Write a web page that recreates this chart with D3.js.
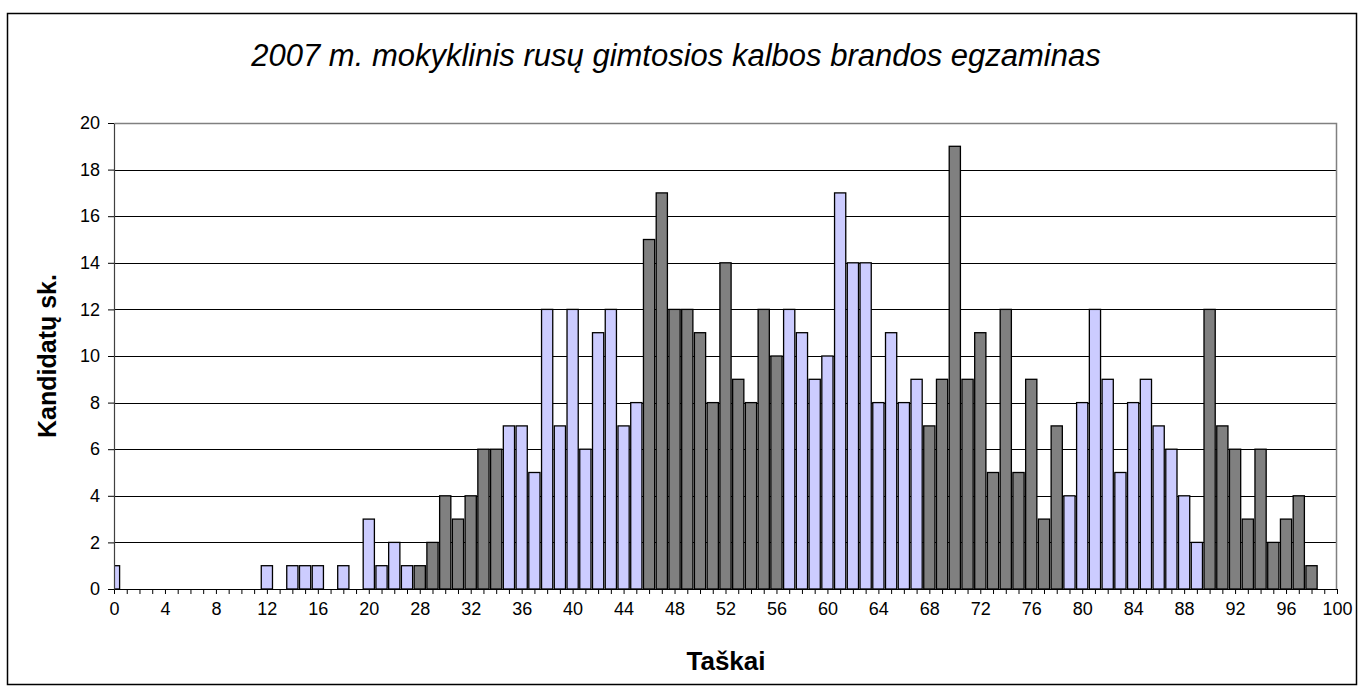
<!DOCTYPE html>
<html>
<head>
<meta charset="utf-8">
<script src="https://cdn.jsdelivr.net/npm/d3@7"></script>
<style>
  body { margin: 0; background: #fff; }
  svg { display: block; font-family: "Liberation Sans", Arial, sans-serif; }
</style>
</head>
<body>
<div id="chart"></div>
<script>
const svgWidth = 1364;
const svgHeight = 692;
const margin = { top: 123, right: 27, bottom: 103, left: 114 };

const width = svgWidth - margin.left - margin.right;
const height = svgHeight - margin.top - margin.bottom;

// categories as they appear on the axis (scores 24-27 are absent)
const scores = d3.range(0, 24).concat(d3.range(28, 101));

const counts = [
  1, 0, 0, 0, 0, 0, 0, 0, 0, 0, 0, 0, 1, 0, 1, 1, 1, 0, 1, 0,
  3, 1, 2, 1, 1, 2, 4, 3, 4, 6, 6, 7, 7, 5, 12, 7, 12, 6, 11, 12,
  7, 8, 15, 17, 12, 12, 11, 8, 14, 9, 8, 12, 10, 12, 11, 9, 10, 17, 14, 14,
  8, 11, 8, 9, 7, 9, 19, 9, 11, 5, 12, 5, 9, 3, 7, 4, 8, 12, 9, 5,
  8, 9, 7, 6, 4, 2, 12, 7, 6, 3, 6, 2, 3, 4, 1, 0, 0
];

// score ranges drawn with the dark fill
const darkBands = [[28, 34], [46, 56], [68, 78], [90, 100]];

const yTicks = d3.range(0, 21, 2);

const data = scores.map((s, i) => ({ score: s, count: counts[i], idx: i }));
const isDark = s => darkBands.some(([a, b]) => s >= a && s <= b);

const svg = d3.select("#chart")
    .append("svg")
    .attr("width", svgWidth)
    .attr("height", svgHeight);

// outer frame
svg.append("rect")
    .attr("x", 7.5).attr("y", 13.5)
    .attr("width", 1349).attr("height", 671)
    .attr("fill", "none")
    .attr("stroke", "#000")
    .attr("stroke-width", 1.5);

svg.append("text")
    .attr("x", 676).attr("y", 66)
    .attr("text-anchor", "middle")
    .attr("font-size", 31)
    .attr("font-style", "italic")
    .text("2007 m. mokyklinis rusų gimtosios kalbos brandos egzaminas");

const g = svg.append("g")
    .attr("transform", `translate(${margin.left}, ${margin.top})`);

const x = d3.scalePoint()
    .domain(data.map(d => d.idx))
    .range([0, width]);

const y = d3.scaleLinear()
    .domain([0, 20])
    .range([height, 0]);

// gridlines
g.append("g")
    .selectAll("line")
    .data(yTicks.filter(v => v > 0 && v < 20))
    .enter()
    .append("line")
    .attr("x1", 0).attr("x2", width)
    .attr("y1", d => Math.round(y(d)) + 0.5)
    .attr("y2", d => Math.round(y(d)) + 0.5)
    .attr("stroke", "#000")
    .attr("stroke-width", 1);

svg.append("clipPath").attr("id", "plotClip")
    .append("rect")
    .attr("width", width).attr("height", height + 1);

const barW = x.step() * 0.88;

g.append("g")
    .attr("clip-path", "url(#plotClip)")
    .selectAll("rect")
    .data(data.filter(d => d.count > 0))
    .enter()
    .append("rect")
    .attr("x", d => x(d.idx) - barW / 2)
    .attr("y", d => y(d.count))
    .attr("width", barW)
    .attr("height", d => height - y(d.count))
    .attr("fill", d => isDark(d.score) ? "#808080" : "#ccccff")
    .attr("stroke", "#000")
    .attr("stroke-width", 1.3);

// plot area border (top and right)
g.append("path")
    .attr("d", `M0.5,0.5H${width - 0.5}V${height}`)
    .attr("fill", "none")
    .attr("stroke", "#808080")
    .attr("stroke-width", 1.5);

const xAxis = d3.axisBottom(x)
    .tickSize(5)
    .tickSizeOuter(0)
    .tickFormat(i => i % 4 === 0 ? scores[i] : "");

const gx = g.append("g")
    .attr("transform", `translate(0, ${height})`)
    .call(xAxis);
gx.select(".domain").attr("stroke", "#000").attr("stroke-width", 1.2);
gx.selectAll(".tick line").attr("stroke", "#000");
gx.selectAll(".tick text")
    .attr("font-family", "Liberation Sans, Arial, sans-serif")
    .attr("font-size", 18)
    .attr("fill", "#000")
    .attr("dy", 0)
    .attr("y", 26);

const yAxis = d3.axisLeft(y)
    .tickValues(yTicks)
    .tickSize(6)
    .tickSizeOuter(0);

const gy = g.append("g").call(yAxis);
gy.select(".domain").attr("stroke", "#404040").attr("stroke-width", 1.2);
gy.selectAll(".tick line").attr("stroke", "#000");
gy.selectAll(".tick text")
    .attr("font-family", "Liberation Sans, Arial, sans-serif")
    .attr("font-size", 18)
    .attr("fill", "#000")
    .attr("x", -14);

svg.append("text")
    .attr("x", 726).attr("y", 670)
    .attr("text-anchor", "middle")
    .attr("font-size", 26)
    .attr("font-weight", "bold")
    .text("Taškai");

svg.append("text")
    .attr("transform", "translate(56, 356) rotate(-90)")
    .attr("text-anchor", "middle")
    .attr("font-size", 25)
    .attr("font-weight", "bold")
    .text("Kandidatų sk.");
</script>
</body>
</html>
